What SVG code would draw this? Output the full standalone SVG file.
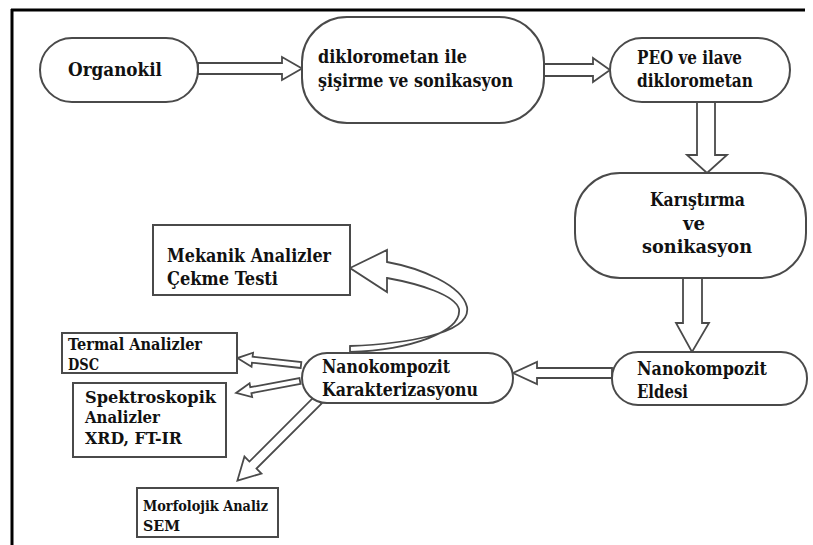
<svg xmlns="http://www.w3.org/2000/svg" width="813" height="545" viewBox="0 0 813 545">
  <style>
    .shape { fill: #fff; stroke: #4a4a4a; stroke-width: 2; }
    .arrow { fill: #fff; stroke: #4a4a4a; stroke-width: 1.8; stroke-linejoin: miter; }
    .lbl { font-family: "DejaVu Serif", "Liberation Serif", serif; font-weight: bold; fill: #111; }
    .big { font-size: 19px; }
    .mid { font-size: 17px; }
    .small { font-size: 16.2px; }
    .tiny { font-size: 15px; }
  </style>
  <rect width="813" height="545" fill="#fff"/>
  <!-- frame lines (top and left) -->
  <line x1="11" y1="10" x2="805" y2="10" stroke="#000" stroke-width="3"/>
  <line x1="12" y1="9" x2="12" y2="545" stroke="#000" stroke-width="3"/>

  <g id="connectors">
    <polygon class="arrow" points="198,63 282,63 282,57 302,68.5 282,80 282,74 198,74"/>
    <polygon class="arrow" points="544,64 593,64 593,58 610,70 593,82 593,76 544,76"/>
    <polygon class="arrow" points="697,102 715,102 715,155 727,155 707,173 687,155 697,155"/>
    <polygon class="arrow" points="683,278 702,278 702,323 709,323 692,352 676,323 683,323"/>
    <polygon class="arrow" points="612,368 537,368 537,362 513,373 537,384 537,378 612,378"/>
    <!-- to Termal -->
    <polygon class="arrow" transform="translate(301,365) rotate(186.2)" points="0,-3 49,-3 49,-7 64,0 49,7 49,3 0,3"/>
    <!-- to Spektroskopik -->
    <polygon class="arrow" transform="translate(300,381) rotate(169.4)" points="0,-3 50,-3 50,-7 65,0 50,7 50,3 0,3"/>
    <!-- to Morfolojik -->
    <polygon class="arrow" transform="translate(318,400) rotate(135)" points="0,-5 92,-5 92,-12 114,0 92,12 92,5 0,5"/>
    <!-- curved arrow to Mekanik -->
    <path class="arrow" d="M350,352 L350,346 C400,344 472,335 467,307 C462,285 420,268 387,262 L387,250 L350,268 L387,292 L387,278 C420,284 455,295 459,309 C462,332 410,350 350,352 Z"/>
  </g>

  <g id="organokil">
    <rect class="shape" x="40" y="38" width="158" height="64" rx="32"/>
    <text class="lbl big" x="68" y="76" textLength="94" lengthAdjust="spacingAndGlyphs">Organokil</text>
  </g>
  <g id="diklorometan">
    <rect class="shape" x="302" y="17" width="242" height="106" rx="45"/>
    <text class="lbl big" x="318" y="63" textLength="149" lengthAdjust="spacingAndGlyphs">diklorometan ile</text>
    <text class="lbl big" x="318" y="87" textLength="195" lengthAdjust="spacingAndGlyphs">şişirme ve sonikasyon</text>
  </g>
  <g id="peo">
    <rect class="shape" x="610" y="38" width="180" height="64" rx="32"/>
    <text class="lbl big" x="637" y="64" textLength="105" lengthAdjust="spacingAndGlyphs">PEO ve ilave</text>
    <text class="lbl big" x="637" y="87" textLength="116" lengthAdjust="spacingAndGlyphs">diklorometan</text>
  </g>
  <g id="karistirma">
    <rect class="shape" x="575" y="173" width="231" height="105" rx="45"/>
    <text class="lbl big" x="650" y="206" textLength="95" lengthAdjust="spacingAndGlyphs">Karıştırma</text>
    <text class="lbl big" x="683" y="230" textLength="22" lengthAdjust="spacingAndGlyphs">ve</text>
    <text class="lbl big" x="642" y="253" textLength="110" lengthAdjust="spacingAndGlyphs">sonikasyon</text>
  </g>
  <g id="eldesi">
    <rect class="shape" x="612" y="352" width="195" height="53" rx="26"/>
    <text class="lbl big" x="637" y="375" textLength="130" lengthAdjust="spacingAndGlyphs">Nanokompozit</text>
    <text class="lbl big" x="637" y="398" textLength="51" lengthAdjust="spacingAndGlyphs">Eldesi</text>
  </g>
  <g id="karakterizasyon">
    <rect class="shape" x="302" y="353" width="211" height="50" rx="25"/>
    <text class="lbl big" x="322" y="373" textLength="128" lengthAdjust="spacingAndGlyphs">Nanokompozit</text>
    <text class="lbl big" x="322" y="396" textLength="156" lengthAdjust="spacingAndGlyphs">Karakterizasyonu</text>
  </g>
  <g id="mekanik">
    <rect class="shape" x="153" y="225" width="197" height="70"/>
    <text class="lbl big" x="167" y="262" textLength="164" lengthAdjust="spacingAndGlyphs">Mekanik Analizler</text>
    <text class="lbl big" x="167" y="285" textLength="111" lengthAdjust="spacingAndGlyphs">Çekme Testi</text>
  </g>
  <g id="termal">
    <rect class="shape" x="62" y="333" width="175" height="40"/>
    <text class="lbl small" x="68" y="350" textLength="134" lengthAdjust="spacingAndGlyphs">Termal Analizler</text>
    <text class="lbl small" x="68" y="370" textLength="31" lengthAdjust="spacingAndGlyphs">DSC</text>
  </g>
  <g id="spektroskopik">
    <rect class="shape" x="73" y="383" width="153" height="74"/>
    <text class="lbl mid" x="85" y="403" textLength="131" lengthAdjust="spacingAndGlyphs">Spektroskopik</text>
    <text class="lbl mid" x="85" y="423" textLength="75" lengthAdjust="spacingAndGlyphs">Analizler</text>
    <text class="lbl mid" x="85" y="444" textLength="97" lengthAdjust="spacingAndGlyphs">XRD, FT-IR</text>
  </g>
  <g id="morfolojik">
    <rect class="shape" x="137" y="488" width="141" height="49"/>
    <text class="lbl tiny" x="143" y="511" textLength="125" lengthAdjust="spacingAndGlyphs">Morfolojik Analiz</text>
    <text class="lbl tiny" x="143" y="531" textLength="37" lengthAdjust="spacingAndGlyphs">SEM</text>
  </g>
</svg>
